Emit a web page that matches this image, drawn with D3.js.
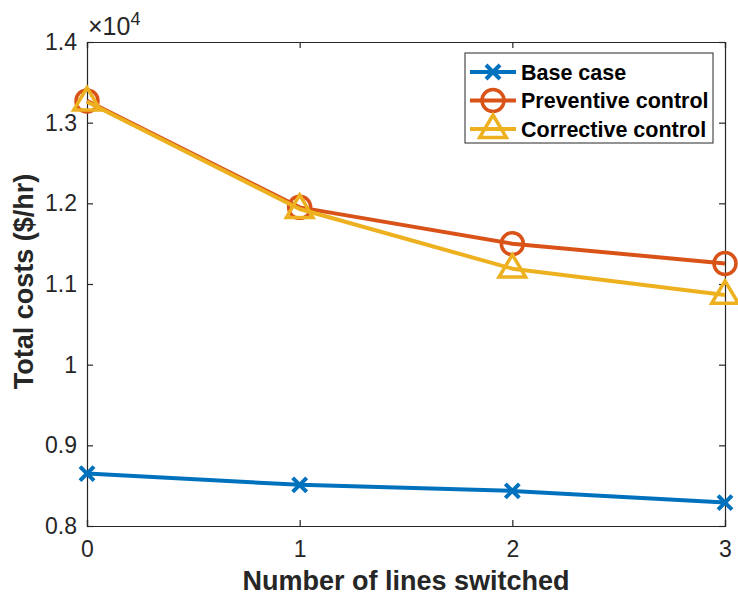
<!DOCTYPE html>
<html><head><meta charset="utf-8">
<script src="https://cdn.jsdelivr.net/npm/d3@7"></script>
<style>body{margin:0;background:#fff}</style>
</head><body>
<script>
const xCats = [0, 1, 2, 3];
const baseCase = [8650, 8510, 8435, 8290];
const preventive = [13270, 11950, 11500, 11255];
const corrective = [13260, 11930, 11190, 10865];
const yTicks = [8000, 9000, 10000, 11000, 12000, 13000, 14000];
const yTickLabels = ["0.8", "0.9", "1", "1.1", "1.2", "1.3", "1.4"];
const seriesNames = ["Base case", "Preventive control", "Corrective control"];
const colors = ["#0072BD", "#D95319", "#EDB120"];
const markers = ["x", "o", "tri"];

const W = 738, H = 597;
const m = {l: 87, t: 42, r: 725, b: 526};
const svg = d3.select("body").append("svg").attr("width", W).attr("height", H);
const font = "'Liberation Sans', Arial, Helvetica, sans-serif";
const x = d3.scaleLinear().domain([0, 3]).range([m.l, m.r]);
const y = d3.scaleLinear().domain([8000, 14000]).range([m.b, m.t]);

const axCol = "#262626";
const gx = svg.append("g").attr("transform", `translate(0,${m.b})`)
  .call(d3.axisBottom(x).tickValues(xCats).tickSize(-6).tickPadding(15).tickFormat(d3.format("d")));
const gxt = svg.append("g").attr("transform", `translate(0,${m.t})`)
  .call(d3.axisTop(x).tickValues(xCats).tickSize(-6).tickFormat(""));
const gy = svg.append("g").attr("transform", `translate(${m.l},0)`)
  .call(d3.axisLeft(y).tickValues(yTicks).tickSize(-6).tickPadding(10).tickFormat((d, i) => yTickLabels[i]));
const gyr = svg.append("g").attr("transform", `translate(${m.r},0)`)
  .call(d3.axisRight(y).tickValues(yTicks).tickSize(-6).tickFormat(""));
[gx, gxt, gy, gyr].forEach(g => {
  g.selectAll("path").attr("stroke", axCol).attr("stroke-width", 1.2);
  g.selectAll("line").attr("stroke", axCol).attr("stroke-width", 1.2);
  g.selectAll("text").attr("fill", axCol).style("font-family", font).style("font-size", "23px");
});

// exponent label
const ex = svg.append("text").attr("x", m.l + 1).attr("y", 35).attr("fill", axCol)
  .style("font-family", font).style("font-size", "25px");
ex.append("tspan").text("\u00D710");
ex.append("tspan").attr("dy", -10).style("font-size", "18px").text("4");

// axis labels
svg.append("text").attr("x", (m.l + m.r) / 2).attr("y", 590).attr("text-anchor", "middle")
  .attr("fill", axCol).style("font-family", font).style("font-size", "27px").style("font-weight", "bold")
  .text("Number of lines switched");
svg.append("text").attr("transform", `translate(33,${(173 + 390) / 2}) rotate(-90)`).attr("text-anchor", "middle")
  .attr("fill", axCol).style("font-family", font).style("font-size", "27px").style("font-weight", "bold")
  .text("Total costs ($/hr)");

function drawMarker(g, type, cx, cy, color) {
  if (type === "x") {
    const r = 7;
    g.append("path").attr("d", `M${cx - r},${cy - r}L${cx + r},${cy + r}M${cx - r},${cy + r}L${cx + r},${cy - r}`)
      .attr("stroke", color).attr("stroke-width", 4).attr("fill", "none");
  } else if (type === "o") {
    g.append("circle").attr("cx", cx).attr("cy", cy).attr("r", 11)
      .attr("stroke", color).attr("stroke-width", 3.5).attr("fill", "none");
  } else {
    const r = 14;
    g.append("path").attr("d", `M${cx},${cy - r}L${cx + r * 0.95},${cy + r * 0.6}L${cx - r * 0.95},${cy + r * 0.6}Z`)
      .attr("stroke", color).attr("stroke-width", 3.5).attr("fill", "none").attr("stroke-linejoin", "miter");
  }
}

const allSeries = [baseCase, preventive, corrective];
const line = d3.line().x((d, i) => x(xCats[i])).y(d => y(d));
allSeries.forEach((vals, k) => {
  const g = svg.append("g");
  g.append("path").datum(vals).attr("d", line).attr("fill", "none")
    .attr("stroke", colors[k]).attr("stroke-width", 4).attr("stroke-linejoin", "round");
  vals.forEach((v, i) => drawMarker(g, markers[k], x(xCats[i]), y(v), colors[k]));
});

// legend
const lg = svg.append("g");
lg.append("rect").attr("x", 465).attr("y", 53).attr("width", 248).attr("height", 90)
  .attr("fill", "#fff").attr("stroke", "#262626").attr("stroke-width", 1);
seriesNames.forEach((name, k) => {
  const yy = 72 + k * 28.5;
  lg.append("line").attr("x1", 470).attr("x2", 516).attr("y1", yy).attr("y2", yy)
    .attr("stroke", colors[k]).attr("stroke-width", 4);
  drawMarker(lg, markers[k], 493, yy, colors[k]);
  lg.append("text").attr("x", 521).attr("y", yy).attr("dy", "0.36em")
    .attr("fill", "#000").style("font-family", font).style("font-size", "21.5px").style("font-weight", "bold")
    .text(name);
});
</script>
</body></html>
